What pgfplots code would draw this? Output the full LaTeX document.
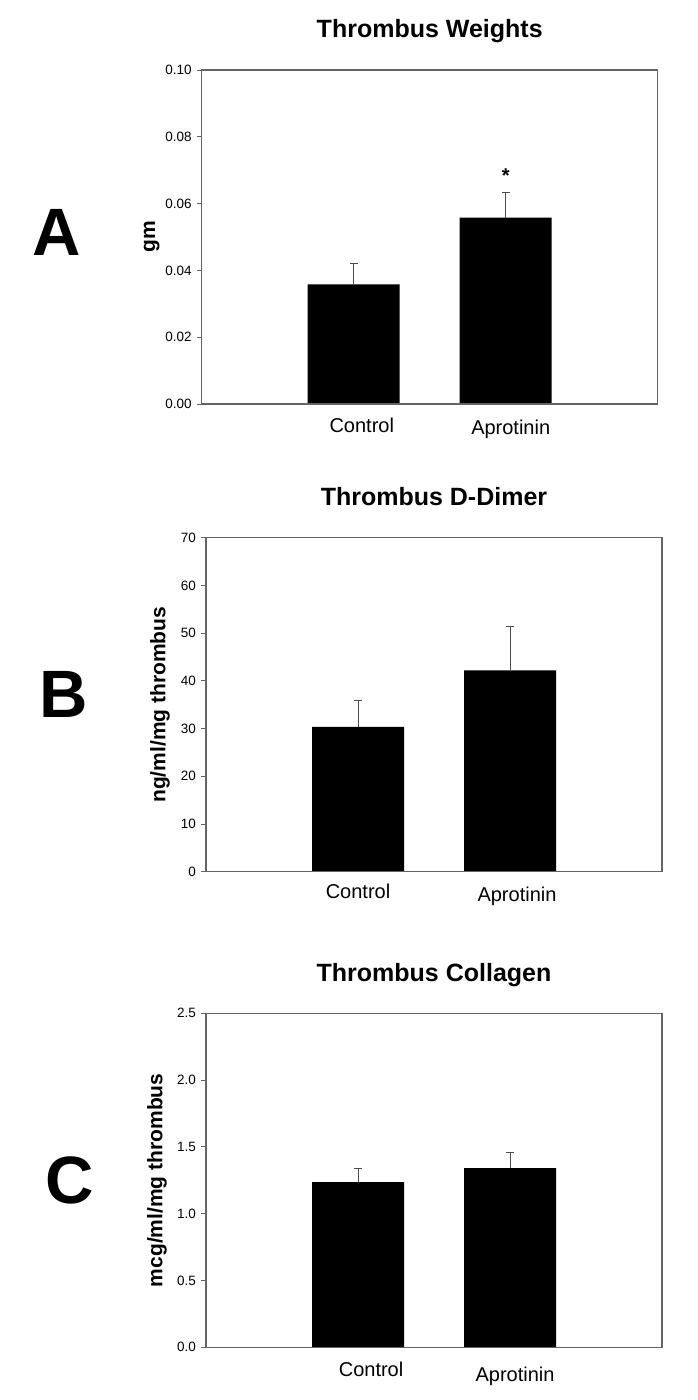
\documentclass[border=0pt]{standalone}
\usepackage{fontspec}
\setmainfont{Liberation Sans}
\usepackage{pgfplots}
\usepackage{pgfplotstable}
\pgfplotsset{compat=1.18}

\pgfplotstableread{
x y e
1 0.0358 0.0063
2 0.0558 0.0074
}\weights
\pgfplotstableread{
x y e
1 30.35 5.45
2 42.2 9.2
}\ddimer
\pgfplotstableread{
x y e
1 1.237 0.105
2 1.342 0.119
}\collagen

\definecolor{axisgray}{RGB}{100,100,100}

\pgfplotsset{
  panel/.style={
    scale only axis,
    width=456pt, height=334pt,
    xmin=0, xmax=3, ymin=0,
    axis on top,
    axis line style={axisgray, line width=1.2pt},
    ytick pos=left,
    tick align=outside,
    major tick length=5pt,
    ytick style={axisgray, line width=0.8pt},
    xtick style={draw=none},
    scaled y ticks=false,
    /pgf/number format/assume math mode=true,
    yticklabel style={font=\fontsize{13.5}{15}\selectfont, xshift=-1.5pt},
    xticklabel style={font=\fontsize{20}{24}\selectfont, anchor=base, yshift=-24pt},
    title style={at={(0.5,1)}, anchor=base, yshift=26pt, font=\fontsize{25}{30}\selectfont\bfseries},
    ylabel style={anchor=center, font=\fontsize{21}{25}\selectfont\bfseries},
  },
  bars/.style={
    ybar, bar width=92pt, fill=black, draw=none,
    error bars/.cd, y dir=plus, y explicit,
    error bar style={line width=1pt, black!70},
    error mark options={rotate=90, mark size=4pt, line width=1pt, black!70},
  },
}

\begin{document}
\begin{tikzpicture}
\path[use as bounding box] (0pt,0pt) rectangle (698pt,1400pt);

% Panel A
\begin{axis}[panel, at={(201.7pt,996pt)}, anchor=south west,
  ymax=0.10, ytick={0,0.02,0.04,0.06,0.08,0.10},
  yticklabel style={/pgf/number format/.cd, fixed, fixed zerofill, precision=2},
  xtick={1.053,2.033}, xticklabels={Control,\raisebox{-2pt}{Aprotinin}},
  title={Thrombus Weights},
  ylabel={gm}, ylabel style={at={([xshift=-50pt]axis description cs:0,0.5)}}]
\addplot[bars] table[x=x, y=y, y error=e] {\weights};
\node[anchor=base, font=\fontsize{20}{24}\selectfont\bfseries] at (axis cs:2,0.0664) {*};
\end{axis}

% Panel B
\begin{axis}[panel, at={(206pt,528.3pt)}, anchor=south west,
  ymax=70, ytick={0,10,20,30,40,50,60,70},
  xtick={1.0,2.046}, xticklabels={\raisebox{2pt}{Control},\raisebox{-1pt}{Aprotinin}},
  title={Thrombus D-Dimer},
  ylabel={ng/ml/mg thrombus}, ylabel style={at={([xshift=-46pt]axis description cs:0,0.5)}}]
\addplot[bars] table[x=x, y=y, y error=e] {\ddimer};
\end{axis}

% Panel C
\begin{axis}[panel, at={(206pt,52.7pt)}, anchor=south west,
  ymax=2.5, ytick={0,0.5,1.0,1.5,2.0,2.5},
  yticklabel style={/pgf/number format/.cd, fixed, fixed zerofill, precision=1},
  xtick={1.086,2.033}, xticklabels={Control,\raisebox{-5pt}{Aprotinin}},
  title={Thrombus Collagen},
  ylabel={mcg/ml/mg thrombus}, ylabel style={at={([xshift=-49pt]axis description cs:0,0.5)}}]
\addplot[bars] table[x=x, y=y, y error=e] {\collagen};
\end{axis}

% Panel letters
\node[anchor=base, font=\fontsize{67}{70}\selectfont\bfseries] at (57pt,1144pt) {A};
\node[anchor=base, font=\fontsize{67}{70}\selectfont\bfseries] at (64pt,682pt) {B};
\node[anchor=base, font=\fontsize{67}{70}\selectfont\bfseries] at (70pt,196pt) {C};
\end{tikzpicture}
\end{document}
